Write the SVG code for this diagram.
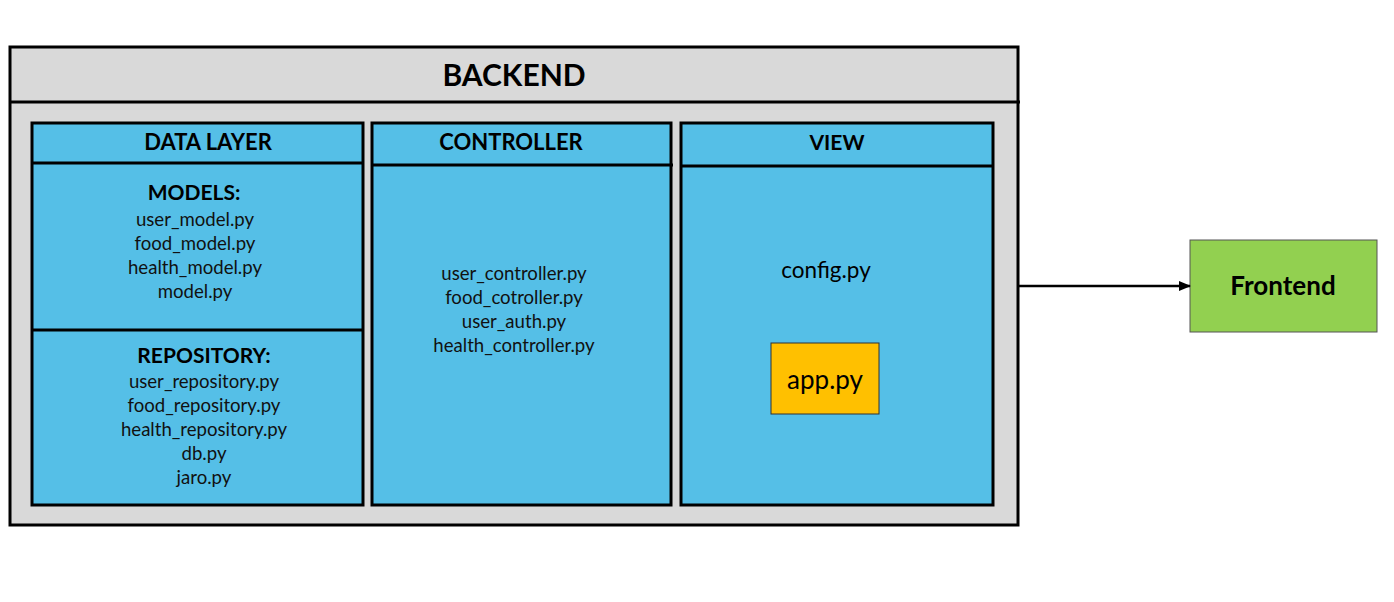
<svg xmlns="http://www.w3.org/2000/svg" width="1394" height="602" viewBox="0 0 1394 602">
<defs>
<style>
.t{font-family:Lato,"Open Sans","Liberation Sans",sans-serif;fill:#000;text-anchor:middle}
.b{font-weight:bold}
.f{font-size:18.6px;fill:#111}
.panel{fill:#55BFE7;stroke:#000;stroke-width:3}
.ln{stroke:#000;stroke-width:3}
</style>
<marker id="ah" markerWidth="12" markerHeight="10" refX="11" refY="5" orient="auto" markerUnits="userSpaceOnUse">
<path d="M0,0 L12,5 L0,10 Z" fill="#000"/>
</marker>
</defs>
<rect width="1394" height="602" fill="#fff"/>
<g id="backend">
<rect x="10" y="47" width="1008" height="478" fill="#D9D9D9" stroke="#000" stroke-width="3"/>
<line class="ln" x1="10" y1="102" x2="1020" y2="102"/>
<text class="t b" x="514" y="86" font-size="30">BACKEND</text>
</g>
<g id="data-layer">
<rect class="panel" x="32" y="123" width="331" height="382"/>
<line class="ln" x1="32" y1="163" x2="363" y2="163"/>
<line class="ln" x1="32" y1="330" x2="363" y2="330"/>
<text class="t b" x="208" y="150" font-size="22">DATA LAYER</text>
<text class="t b" x="194" y="200" font-size="21">MODELS:</text>
<text class="t f" x="195" y="226">user_model.py</text>
<text class="t f" x="195" y="250">food_model.py</text>
<text class="t f" x="195" y="274">health_model.py</text>
<text class="t f" x="195" y="298">model.py</text>
<text class="t b" x="204" y="363" font-size="21">REPOSITORY:</text>
<text class="t f" x="204" y="388">user_repository.py</text>
<text class="t f" x="204" y="412">food_repository.py</text>
<text class="t f" x="204" y="436">health_repository.py</text>
<text class="t f" x="204" y="460">db.py</text>
<text class="t f" x="204" y="484">jaro.py</text>
</g>
<g id="controller">
<rect class="panel" x="372" y="123" width="299" height="382"/>
<line class="ln" x1="372" y1="165" x2="673" y2="165"/>
<text class="t b" x="511" y="150" font-size="22">CONTROLLER</text>
<text class="t f" x="514" y="280">user_controller.py</text>
<text class="t f" x="514" y="304">food_cotroller.py</text>
<text class="t f" x="514" y="328">user_auth.py</text>
<text class="t f" x="514" y="352">health_controller.py</text>
</g>
<g id="view">
<rect class="panel" x="681" y="123" width="312" height="382"/>
<line class="ln" x1="681" y1="166" x2="993" y2="166"/>
<text class="t b" x="837" y="150" font-size="21">VIEW</text>
<text class="t" x="826" y="278" font-size="22.5" fill="#111">config.py</text>
</g>
<g id="app">
<rect x="771" y="343" width="108" height="71" fill="#FFC000" stroke="#333" stroke-width="1"/>
<text class="t" x="825" y="389" font-size="26">app.py</text>
</g>
<g id="frontend">
<rect x="1190" y="240" width="187" height="92" fill="#92D050" stroke="#555" stroke-width="1"/>
<text class="t b" x="1283" y="295" font-size="26">Frontend</text>
</g>
<g id="connectors">
<line x1="1018" y1="286" x2="1190" y2="286" stroke="#000" stroke-width="2.5" marker-end="url(#ah)"/>
</g>
</svg>
